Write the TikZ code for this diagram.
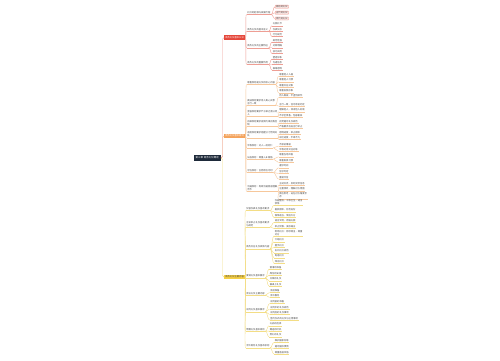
\documentclass[tikz,border=0pt]{standalone}
\usepackage{fontspec}
\newfontfamily\cjk{Noto Sans CJK SC}
\definecolor{rootc}{HTML}{1E2A3A}
\definecolor{redc}{HTML}{E5473B}
\definecolor{redl}{HTML}{EE9E94}
\definecolor{redf}{HTML}{FDE6E3}
\definecolor{orc}{HTML}{F4A25A}
\definecolor{orl}{HTML}{F6C79B}
\definecolor{yec}{HTML}{F5CF45}
\definecolor{yel}{HTML}{F3DD85}
\definecolor{txt}{HTML}{444444}
\tikzset{
  base/.style={font=\cjk\fontsize{2.3}{2.9}\selectfont, anchor=west, align=left, inner xsep=0.6pt, inner ysep=0.5pt, text=txt},
  rootbox/.style={base, anchor=east, fill=rootc, text=white, font=\cjk\fontsize{2.5}{3}\selectfont, inner xsep=2pt, minimum height=6pt},
  brbox/.style={base, fill=#1, inner xsep=1.2pt, minimum height=4.5pt},
  l2/.style={base},
  leaf/.style={base},
  rleaf/.style={base, fill=redf, draw=redl, line width=0.3pt, inner xsep=1pt, rounded corners=0.5pt},
  conn/.style={draw=#1, line width=0.4pt},
}
\begin{document}
\begin{tikzpicture}[x=1pt,y=-1pt]
\useasboundingbox[fill=white] (0,0) rectangle (500,360);

% root and branches
\node[rootbox] (root) at (221,158) {第三章 商务礼仪概述};
\node[brbox=redc, text=white] (b1) at (224,37.7) {商务礼仪基本认识};
\node[brbox=orc, text=white] (b2) at (224,136) {商务礼仪基本原则};
\node[brbox=yec, text=txt] (b3) at (224,277) {商务礼仪主要内容};

\draw[conn=orl, rounded corners=1.5pt] (root.east) -- ++(1.5,0) |- (b2.west);
\draw[conn=redl, rounded corners=1.5pt] (root.east) -- ++(1.5,0) |- (b1.west);
\draw[conn=yel, rounded corners=1.5pt] (root.east) -- ++(1.5,0) |- (b3.west);

% ---------- red ----------
\node[l2] (r1) at (246.5,12.7) {礼仪的起源与发展历程};
\node[l2] (r2) at (246.5,29.3) {商务礼仪的基本含义};
\node[l2] (r3) at (246.5,46) {商务礼仪的主要特征};
\node[l2] (r4) at (246.5,62.7) {商务礼仪的重要作用};
\node[rleaf] (r1a) at (275,6.7) {原始的礼仪};
\node[rleaf] (r1b) at (275,12.7) {古代的礼仪};
\node[rleaf] (r1c) at (275,18.5) {现代的礼仪};
\node[leaf] (r2a) at (272,24) {礼貌礼节};
\node[leaf] (r2b) at (272,29.3) {仪表仪态};
\node[leaf] (r2c) at (272,34.7) {行为规范};
\node[leaf] (r3a) at (272,40.3) {规范性强};
\node[leaf] (r3b) at (272,46) {对象明确};
\node[leaf] (r3c) at (272,51.7) {技巧实用};
\node[leaf] (r4a) at (272,57.3) {塑造形象};
\node[leaf] (r4b) at (272,62.7) {沟通信息};
\node[leaf] (r4c) at (272,68.3) {联络感情};

\foreach \c in {r1,r2,r3,r4}
  \draw[conn=redl] (b1.east) .. controls +(1.5,0) and +(-1.5,0) .. (\c.south west);
\foreach \c in {r1a,r1b,r1c}
  \draw[conn=redl] (r1.south east) .. controls +(2,0) and +(-2,0) .. (\c.west);
\foreach \p/\c in {r2/r2a,r2/r2b,r2/r2c,r3/r3a,r3/r3b,r3/r3c,r4/r4a,r4/r4b,r4/r4c}
  \draw[conn=redl] (\p.south east) .. controls +(1.8,0) and +(-1.8,0) .. (\c.south west);
\foreach \n in {r1,r2,r3,r4,r2a,r2b,r2c,r3a,r3b,r3c,r4a,r4b,r4c}
  \draw[conn=redl] (\n.south west) -- (\n.south east);

% ---------- orange ----------
\node[l2] (o1) at (246.5,82.7) {尊重原则是礼仪的核心内容};
\node[l2] (o2) at (246.5,101.7) {真诚原则要求待人真心实意\\言行一致};
\node[l2] (o3) at (246.5,112.7) {宽容原则要求严于律己宽以待\\人};
\node[l2] (o4) at (246.5,123.3) {自律原则要求自我约束自我控\\制};
\node[l2] (o5) at (246.5,134.5) {适度原则要求把握分寸恰到好\\处};
\node[l2] (o6) at (246.5,146) {平等原则：对人一视同仁};
\node[l2] (o7) at (246.5,157.3) {从俗原则：尊重入乡随俗};
\node[l2] (o8) at (246.5,170.7) {守信原则：言而有信守时};
\node[l2] (o9) at (246.5,188.3) {沟通原则：有效沟通促进理解\\合作};

\node[leaf] (o1a) at (278.5,74.3) {尊重他人人格};
\node[leaf] (o1b) at (278.5,80) {尊重他人习惯};
\node[leaf] (o1c) at (278.5,85.7) {尊重交往对象};
\node[leaf] (o1d) at (278.5,91) {尊重自我形象};
\node[leaf] (o2a) at (278.5,95.7) {待人真诚，不虚伪做作};
\node[leaf] (o2b) at (278.5,104.3) {言行一致，信守承诺约定};
\node[leaf] (o3a) at (278.5,110) {理解他人，体谅他人处境};
\node[leaf] (o3b) at (278.5,115.5) {不求全责备，包容差异};
\node[leaf] (o4a) at (278.5,121.3) {自觉遵守礼仪规范};
\node[leaf] (o4b) at (278.5,126.7) {严格要求自身言行举止};
\node[leaf] (o5a) at (278.5,132.3) {感情适度，举止得体};
\node[leaf] (o5b) at (278.5,137.7) {谈吐适度，不卑不亢};
\node[leaf] (o6a) at (278.5,144.3) {不厚此薄彼};
\node[leaf] (o6b) at (278.5,149.5) {平等对待交往对象};
\node[leaf] (o7a) at (278.5,155) {尊重当地风俗};
\node[leaf] (o7b) at (278.5,160.7) {尊重民族习惯};
\node[leaf] (o8a) at (278.5,166) {遵守时间};
\node[leaf] (o8b) at (278.5,171.7) {信守约定};
\node[leaf] (o8c) at (278.5,177.3) {重诺守信};
\node[leaf] (o9a) at (278.5,183.3) {主动交流，及时反馈信息};
\node[leaf] (o9b) at (278.5,189) {注重倾听，理解对方意图};
\node[leaf] (o9c) at (278.5,195.5) {换位思考，站在对方角度考\\虑};

\foreach \c in {o1,o2,o3,o4,o5,o6,o7,o8,o9}
  \draw[conn=orl] (b2.east) .. controls +(1.5,0) and +(-1.5,0) .. (\c.south west);
\foreach \p/\c in {o1/o1a,o1/o1b,o1/o1c,o1/o1d,o2/o2a,o2/o2b,o3/o3a,o3/o3b,o4/o4a,o4/o4b,o5/o5a,o5/o5b,o6/o6a,o6/o6b,o7/o7a,o7/o7b,o8/o8a,o8/o8b,o8/o8c,o9/o9a,o9/o9b,o9/o9c}
  \draw[conn=orl] (\p.south east) .. controls +(1.8,0) and +(-1.8,0) .. (\c.south west);
\foreach \n in {o1,o2,o3,o4,o5,o6,o7,o8,o9,o1a,o1b,o1c,o1d,o2a,o2b,o3a,o3b,o4a,o4b,o5a,o5b,o6a,o6b,o7a,o7b,o8a,o8b,o8c,o9a,o9b,o9c}
  \draw[conn=orl] (\n.south west) -- (\n.south east);

% ---------- yellow ----------
\node[l2] (y1) at (245.5,208.8) {仪容仪表礼仪基本要求};
\node[l2] (y2) at (245.5,223.7) {言谈举止礼仪基本要求\\与规范};
\node[l2] (y3) at (245.5,247) {商务交往礼仪具体内容};
\node[l2] (y4) at (245.5,276) {宴请礼仪基本要求};
\node[l2] (y5) at (245.5,293.3) {会议礼仪主要内容};
\node[l2] (y6) at (245.5,310) {谈判礼仪基本要求};
\node[l2] (y7) at (245.5,329.3) {馈赠礼仪基本原则};
\node[l2] (y8) at (245.5,346) {涉外商务礼仪基本原则};

\node[leaf] (y1a) at (274,202) {仪容整洁，干净卫生，适当\\修饰};
\node[leaf] (y1b) at (274,210) {着装得体，符合身份};
\node[leaf] (y1c) at (274,215.7) {佩饰适当，简洁大方};
\node[leaf] (y2a) at (274,220.7) {语言文明，用语礼貌};
\node[leaf] (y2b) at (274,226.7) {举止优雅，姿态端正};
\node[leaf] (y3a) at (274,232.7) {称呼礼仪：称呼得当，尊重\\对方};
\node[leaf] (y3b) at (274,240) {介绍礼仪};
\node[leaf] (y3c) at (274,245.7) {握手礼仪};
\node[leaf] (y3d) at (274,251) {名片礼仪规范};
\node[leaf] (y3e) at (274,256) {电话礼仪};
\node[leaf] (y3f) at (274,261.7) {拜访礼仪};
\node[leaf] (y4a) at (269,267.3) {宴请的准备};
\node[leaf] (y4b) at (269,273.3) {席位的安排};
\node[leaf] (y4c) at (269,279) {点菜的礼仪};
\node[leaf] (y4d) at (269,284.3) {餐桌上礼仪};
\node[leaf] (y5a) at (269.5,290.7) {会前准备};
\node[leaf] (y5b) at (269.5,295.7) {会中服务};
\node[leaf] (y6a) at (269.5,301.7) {谈判前的准备};
\node[leaf] (y6b) at (269.5,307.3) {谈判中的礼仪规范};
\node[leaf] (y6c) at (269.5,312.7) {谈判后的礼仪事项};
\node[leaf] (y6d) at (269.5,318.3) {签约仪式的礼仪与注意事项};
\node[leaf] (y7a) at (269,324) {礼品的选择};
\node[leaf] (y7b) at (269,329.3) {赠送的时机};
\node[leaf] (y7c) at (269,335) {受礼的礼仪};
\node[leaf] (y8a) at (274,340.7) {维护国家形象};
\node[leaf] (y8b) at (274,346.7) {遵守国际惯例};
\node[leaf] (y8c) at (274,352.3) {尊重各国风俗};

\foreach \c in {y1,y2,y3,y4,y5,y6,y7,y8}
  \draw[conn=yel] (b3.east) .. controls +(1.5,0) and +(-1.5,0) .. (\c.south west);
\foreach \p/\c in {y1/y1a,y1/y1b,y1/y1c,y2/y2a,y2/y2b,y3/y3a,y3/y3b,y3/y3c,y3/y3d,y3/y3e,y3/y3f,y4/y4a,y4/y4b,y4/y4c,y4/y4d,y5/y5a,y5/y5b,y6/y6a,y6/y6b,y6/y6c,y6/y6d,y7/y7a,y7/y7b,y7/y7c,y8/y8a,y8/y8b,y8/y8c}
  \draw[conn=yel] (\p.south east) .. controls +(1.8,0) and +(-1.8,0) .. (\c.south west);
\foreach \n in {y1,y2,y3,y4,y5,y6,y7,y8,y1a,y1b,y1c,y2a,y2b,y3a,y3b,y3c,y3d,y3e,y3f,y4a,y4b,y4c,y4d,y5a,y5b,y6a,y6b,y6c,y6d,y7a,y7b,y7c,y8a,y8b,y8c}
  \draw[conn=yel] (\n.south west) -- (\n.south east);
\end{tikzpicture}
\end{document}
